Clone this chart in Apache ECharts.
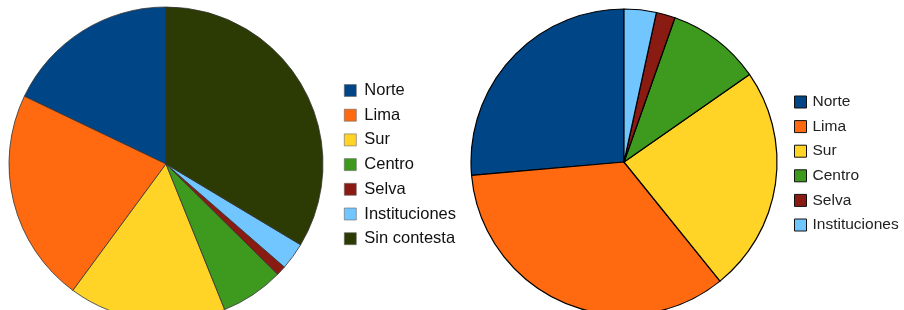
<!DOCTYPE html>
<html lang="es">
<head>
    <meta charset="utf-8">
    <script type="text/javascript" src="https://cdn.jsdelivr.net/npm/echarts@6/dist/echarts.min.js"></script>
</head>
<body style="margin: 0; background: #fff">
<div id="container" style="width:904px;height:310px"></div>

<script type="text/javascript">
    // categorias (orden de la leyenda)
    var regionesIzq = ['Norte', 'Lima', 'Sur', 'Centro', 'Selva', 'Instituciones', 'Sin contesta'];
    var regionesDer = ['Norte', 'Lima', 'Sur', 'Centro', 'Selva', 'Instituciones'];

    // valores en %
    var valoresIzq = [17.9, 22.0, 16.2, 6.5, 1.0, 2.8, 33.6];
    var valoresDer = [26.4, 34.4, 23.9, 9.9, 2.0, 3.4];

    var colores = {
        'Norte': '#004586',
        'Lima': '#ff6910',
        'Sur': '#ffd426',
        'Centro': '#3e9a1e',
        'Selva': '#8a1b12',
        'Instituciones': '#72c6ff',
        'Sin contesta': '#2c3b03'
    };

    function datos(nombres, valores) {
        return nombres.map(function (n, i) {
            return {name: n, value: valores[i], itemStyle: {color: colores[n]}};
        });
    }

    var myChart = echarts.init(document.getElementById('container'));

    var option = {
        animation: false,
        legend: [{
            data: regionesIzq,
            orient: 'vertical',
            left: 344,
            top: 82,
            padding: 0,
            itemWidth: 12,
            itemHeight: 12,
            itemGap: 7.7,
            icon: 'rect',
            selectedMode: false,
            itemStyle: {borderColor: '#666', borderWidth: 0.6},
            textStyle: {fontFamily: 'Liberation Sans', fontSize: 16.5, lineHeight: 16, color: '#111', padding: [0, 0, 0, 3]}
        }, {
            data: regionesDer,
            orient: 'vertical',
            left: 794,
            top: 94,
            padding: 0,
            itemWidth: 12,
            itemHeight: 12,
            itemGap: 8.6,
            icon: 'rect',
            selectedMode: false,
            itemStyle: {borderColor: '#111', borderWidth: 1},
            textStyle: {fontFamily: 'Liberation Sans', fontSize: 15.5, lineHeight: 15, color: '#222', padding: [0, 0, 0, 1]}
        }],
        series: [
            {
                type: 'pie',
                center: [166, 164],
                radius: 157,
                startAngle: 90,
                clockwise: false,
                label: {show: false},
                labelLine: {show: false},
                emphasis: {disabled: true},
                itemStyle: {borderColor: '#333', borderWidth: 0.8},
                data: datos(regionesIzq, valoresIzq)
            },
            {
                type: 'pie',
                center: [624, 162],
                radius: 153,
                startAngle: 90,
                clockwise: false,
                label: {show: false},
                labelLine: {show: false},
                emphasis: {disabled: true},
                itemStyle: {borderColor: '#000', borderWidth: 1.2},
                data: datos(regionesDer, valoresDer)
            }
        ]
    };

    myChart.setOption(option);
</script>
</body>
</html>
